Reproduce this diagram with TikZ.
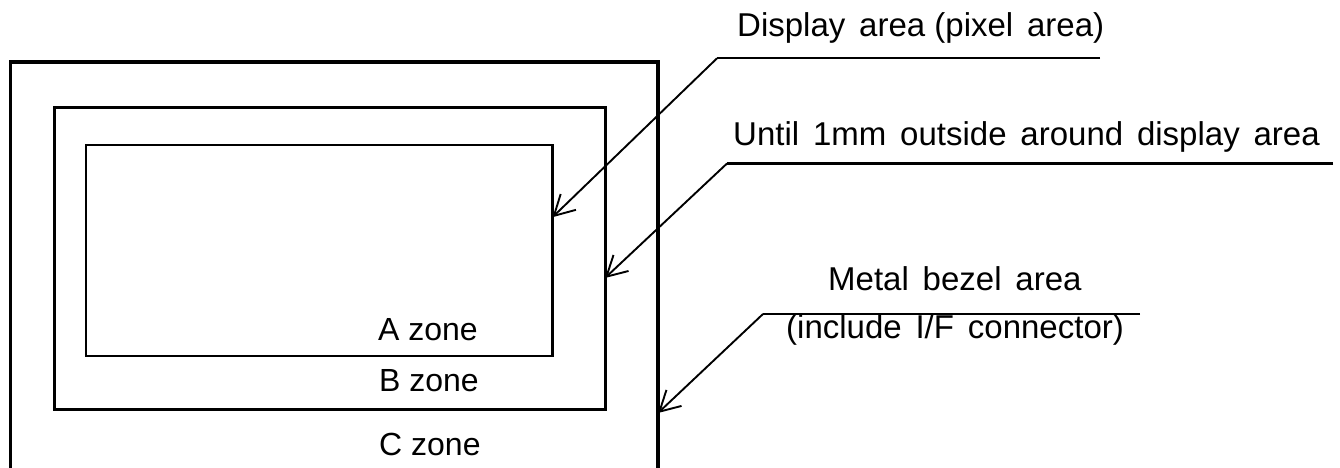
\documentclass[tikz,border=0pt]{standalone}
\usepackage{fontspec}
\setmainfont{Liberation Sans}
\usetikzlibrary{arrows.meta}
\newcommand{\wsp}{\hspace{0.42em}}
\begin{document}
\begin{tikzpicture}[x=1pt,y=-1pt,
  zonebox/.style={draw=black,fill=none,inner sep=0pt,outer sep=0pt,anchor=north west},
  leader/.style={line width=2.4pt},
  pointer/.style={line width=1.9pt,-{Straight Barb[length=20pt,width=22pt,line width=1.9pt]}},
  lbl/.style={anchor=base west,inner sep=0pt,font=\fontsize{33}{38}\selectfont},
  zlbl/.style={anchor=base west,inner sep=0pt,font=\fontsize{32}{38}\selectfont}]
\useasboundingbox[fill=white] (0,0) rectangle (1340,468);
% outer (metal bezel) frame, open at the bottom
\coordinate (Cnw) at (10.5,62);
\coordinate (Cne) at (658,62);
\draw[line width=3.8pt] (10.5,468) -- (Cnw) -- (Cne) -- (658,468);
% B zone and A zone rectangles
\node[zonebox,line width=3pt,minimum width=551pt,minimum height=301.5pt] (B) at (54,107.5) {};
\node[zonebox,line width=2.2pt,minimum width=466.5pt,minimum height=210.5pt] (A) at (86,145.2) {};
% zone labels
\node[zlbl] (lA) at (378,340) {A zone};
\node[zlbl] (lB) at (379,391.5) {B zone};
\node[zlbl] (lC) at (379,455) {C zone};
% callout texts
\node[lbl] (t1) at (737,36.5) {Display\wsp area (pixel\wsp area)};
\node[lbl] (t2) at (733,145.5) {Until\wsp 1mm\wsp outside\wsp around\wsp display\wsp area};
\node[lbl] (t3) at (828,290) {Metal\wsp bezel\wsp area};
\node[lbl] (t4) at (786,338) {(include\wsp I/F\wsp connector)};
% leader elbows and ends
\coordinate (e1) at (717,58.3);
\coordinate (f1) at (1100,58.3);
\coordinate (e2) at (727,163.5);
\coordinate (f2) at (1333,163.5);
\coordinate (e3) at (763,314);
\coordinate (f3) at (1140,314);
\coordinate (p1) at ([yshift=-72pt]A.north east);
\coordinate (p2) at ([yshift=-170.5pt]B.north east);
\coordinate (p3) at (658,413);
\draw[leader] (f1) -- (e1);
\draw[leader] (f2) -- (e2);
\draw[leader] (f3) -- (e3);
\draw[pointer] (e1) -- (p1);
\draw[pointer] (e2) -- (p2);
\draw[pointer] (e3) -- (p3);
\end{tikzpicture}
\end{document}
